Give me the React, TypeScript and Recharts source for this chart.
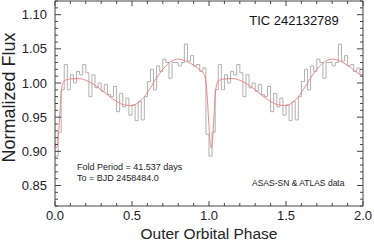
import React from 'react';
import { ComposedChart, Line, XAxis, YAxis, Customized } from 'recharts';

// folded light curve, 0.02 phase bins, one outer orbit (bin start 0.00 ... 0.98)
const binWidth = 0.02;
const foldFlux = [
  0.893, 0.928, 0.99, 1.027, 0.99, 1.012, 1.0, 1.017, 1.012, 1.027,
  1.015, 0.98, 1.012, 0.993, 1.0, 0.988, 0.998, 0.983, 0.98, 0.995,
  0.958, 0.985, 0.965, 0.978, 0.953, 0.968, 0.945, 0.973, 0.946, 0.98,
  1.002, 1.02, 0.99, 1.025, 1.017, 1.035, 1.03, 1.007, 1.03, 1.03,
  1.025, 1.03, 1.057, 1.032, 1.04, 1.025, 1.027, 1.017, 1.022, 0.925,
];
// last bin of the second orbit (1.98 - 2.00)
const endBinFlux = 1.012;

// model curve (red)
const modelPhase = [
  0, 0.005, 0.01, 0.015, 0.02, 0.03, 0.04, 0.05, 0.06, 0.08, 0.1, 0.15, 0.2,
  0.25, 0.3, 0.35, 0.4, 0.45, 0.5, 0.55, 0.6, 0.65, 0.7, 0.75, 0.8, 0.85, 0.9,
  0.94, 0.97, 0.98, 0.99, 1.0, 1.01, 1.015, 1.02, 1.03, 1.04, 1.05, 1.06, 1.08,
  1.1, 1.15, 1.2, 1.25, 1.3, 1.35, 1.4, 1.45, 1.5, 1.55, 1.6, 1.65, 1.7, 1.75,
  1.8, 1.85, 1.9, 1.94, 1.97, 2.0,
];
const modelFlux = [
  0.912, 0.906, 0.905, 0.908, 0.918, 0.95, 0.985, 0.999, 1.003, 1.005, 1.006,
  1.0065, 1.004, 0.998, 0.99, 0.981, 0.973, 0.968, 0.967, 0.973, 0.986, 1.004,
  1.02, 1.031, 1.035, 1.032, 1.026, 1.019, 1.012, 1.002, 0.975, 0.935, 0.908,
  0.905, 0.91, 0.942, 0.982, 0.998, 1.003, 1.005, 1.006, 1.0065, 1.004, 0.998,
  0.99, 0.981, 0.973, 0.968, 0.967, 0.973, 0.986, 1.004, 1.02, 1.031, 1.035,
  1.032, 1.026, 1.019, 1.014, 1.011,
];

const xMajorTicks = [0, 0.5, 1, 1.5, 2];
const yMajorTicks = [0.85, 0.9, 0.95, 1.0, 1.05, 1.1];

const xTicks = Array.from({ length: 21 }, (_, i) => i / 10);
const yTicks = Array.from({ length: 31 }, (_, i) => (82 + i) / 100);

const stepData: { phase: number; flux: number }[] = [];
for (let i = 0; i < 100; i++) {
  const v = i === 99 ? endBinFlux : foldFlux[i % foldFlux.length];
  stepData.push({ phase: Math.round(i * binWidth * 100) / 100, flux: v });
}
stepData.push({ phase: 2, flux: endBinFlux });

const modelData = modelPhase.map((p, i) => ({ phase: p, flux: modelFlux[i] }));

const AXIS = '#444';
const FONT = '"Liberation Sans", Arial, sans-serif';
const TXT = '#222';

const near = (arr: number[], v: number) => arr.some((a) => Math.abs(a - v) < 1e-6);

const BottomTick = (props: any) => {
  const { x, y, payload } = props;
  const major = near(xMajorTicks, payload.value);
  return (
    <g>
      <line x1={x} x2={x} y1={y} y2={y - (major ? 5 : 3)} stroke={AXIS} />
      {major && (
        <text x={x} y={y + 14} textAnchor="middle" fontSize={13} fontFamily={FONT} fill={TXT}>
          {payload.value.toFixed(1)}
        </text>
      )}
    </g>
  );
};

const TopTick = (props: any) => {
  const { x, y, payload } = props;
  const major = near(xMajorTicks, payload.value);
  return <line x1={x} x2={x} y1={y} y2={y + (major ? 5 : 3)} stroke={AXIS} />;
};

const LeftTick = (props: any) => {
  const { x, y, payload } = props;
  const major = near(yMajorTicks, payload.value);
  return (
    <g>
      <line x1={x} x2={x + (major ? 6 : 3)} y1={y} y2={y} stroke={AXIS} />
      {major && (
        <text x={x - 8} y={y + 4.5} textAnchor="end" fontSize={13} fontFamily={FONT} fill={TXT}>
          {payload.value.toFixed(2)}
        </text>
      )}
    </g>
  );
};

const RightTick = (props: any) => {
  const { x, y, payload } = props;
  const major = near(yMajorTicks, payload.value);
  return <line x1={x} x2={x - (major ? 6 : 3)} y1={y} y2={y} stroke={AXIS} />;
};

const Texts = () => (
  <g fontFamily={FONT} fill={TXT}>
    <text x={294} y={25} textAnchor="middle" fontSize={13} fill="#111">
      TIC 242132789
    </text>
    <text x={77} y={170} fontSize={9}>
      Fold Period = 41.537 days
    </text>
    <text x={77} y={181} fontSize={9}>
      To = BJD 2458484.0
    </text>
    <text x={252} y={186} fontSize={8.5}>
      ASAS-SN &amp; ATLAS data
    </text>
    <text x={209} y={239} textAnchor="middle" fontSize={15.5}>
      Outer Orbital Phase
    </text>
    <text transform="translate(15,97.5) rotate(-90)" textAnchor="middle" fontSize={18}>
      Normalized Flux
    </text>
  </g>
);

export default function App() {
  return (
    <div style={{ width: 374, height: 241, background: '#fff' }}>
      <style>{'body{margin:0}'}</style>
      <ComposedChart width={374} height={241} margin={{ top: 0, right: 0, bottom: 0, left: 0 }}>
        <XAxis
          xAxisId="b"
          type="number"
          dataKey="phase"
          domain={[0, 2]}
          ticks={xTicks}
          interval={0}
          height={35}
          tickSize={0}
          tickMargin={0}
          tickLine={false}
          axisLine={{ stroke: AXIS }}
          tick={BottomTick}
          allowDataOverflow
        />
        <XAxis
          xAxisId="t"
          orientation="top"
          type="number"
          dataKey="phase"
          domain={[0, 2]}
          ticks={xTicks}
          interval={0}
          height={1}
          tickSize={0}
          tickMargin={0}
          tickLine={false}
          axisLine={{ stroke: AXIS }}
          tick={TopTick}
          allowDataOverflow
        />
        <YAxis
          yAxisId="l"
          type="number"
          domain={[0.82, 1.12]}
          ticks={yTicks}
          interval={0}
          width={55}
          tickSize={0}
          tickMargin={0}
          tickLine={false}
          axisLine={{ stroke: AXIS }}
          tick={LeftTick}
          allowDataOverflow
        />
        <YAxis
          yAxisId="r"
          orientation="right"
          type="number"
          domain={[0.82, 1.12]}
          ticks={yTicks}
          interval={0}
          width={11}
          tickSize={0}
          tickMargin={0}
          tickLine={false}
          axisLine={{ stroke: AXIS }}
          tick={RightTick}
          allowDataOverflow
        />
        <Line
          xAxisId="b"
          yAxisId="l"
          data={stepData}
          dataKey="flux"
          type="stepAfter"
          stroke="#b0b0b0"
          strokeWidth={1}
          dot={false}
          isAnimationActive={false}
        />
        <Line
          xAxisId="b"
          yAxisId="l"
          data={modelData}
          dataKey="flux"
          type="monotone"
          stroke="#ec7b7b"
          strokeWidth={0.9}
          dot={false}
          isAnimationActive={false}
        />
        <Customized component={Texts} />
      </ComposedChart>
    </div>
  );
}
